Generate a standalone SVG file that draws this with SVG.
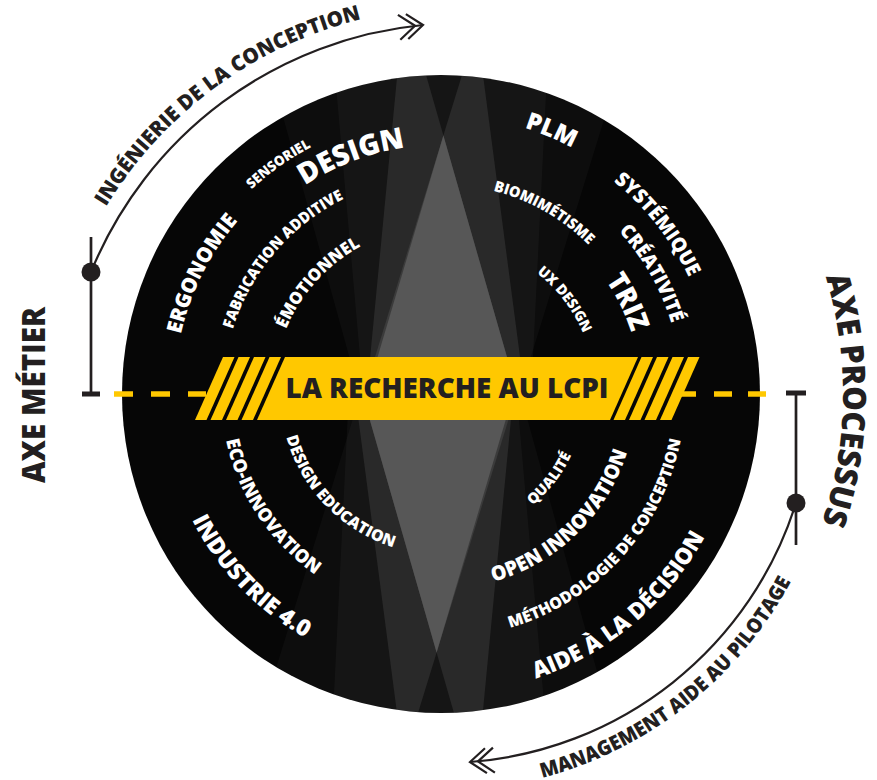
<svg xmlns="http://www.w3.org/2000/svg" width="877" height="780" viewBox="0 0 877 780">
<defs>
<style>
.w{fill:#fff;font-family:"Open Sans","Noto Sans",sans-serif;font-weight:800;}
.d{fill:#231f20;font-family:"Open Sans","Noto Sans",sans-serif;font-weight:800;}
.ln{fill:none;stroke:#231f20;stroke-width:2.2;}
.vl{stroke:#231f20;stroke-width:2.7;}
.dash{stroke:#FFC800;stroke-width:5.5;}
.y{fill:#FFC800;}
</style>
<clipPath id="cc"><circle cx="441" cy="394" r="319"/></clipPath>
<polygon id="stripe" points="0,0 11.5,0 -16.5,63 -28,63"/>
<path id="chev" d="M-16,-12.5 L0,0 L-16,12.5 M-24,-12.5 L-8,0 L-24,12.5"/>
<path id="p1" d="M195.8,499.6 A267,267 0 0 1 379.6,134.2"/>
<path id="p2" d="M163.0,370.9 A279,279 0 0 1 512.0,124.2"/>
<path id="p3" d="M206.0,311.7 A249,249 0 0 1 562.9,176.9"/>
<path id="p4" d="M226.0,430.2 A218,218 0 0 1 442.7,176.0"/>
<path id="p5" d="M274.6,417.1 A168,168 0 0 1 447.2,226.1"/>
<path id="p6" d="M313.3,146.0 A279,279 0 0 1 707.4,311.3"/>
<path id="p7" d="M450.1,120.2 A274,274 0 0 1 709.1,450.5"/>
<path id="p8" d="M483.7,156.8 A241,241 0 0 1 667.2,477.2"/>
<path id="p9" d="M488.7,199.8 A200,200 0 0 1 624.0,474.7"/>
<path id="p10" d="M367.8,197.2 A210,210 0 0 1 647.5,356.1"/>
<path id="p11" d="M448.0,239.7 A154.5,154.5 0 0 1 591.8,427.7"/>
<path id="p12" d="M229.9,332.1 A220,220 0 0 0 416.7,612.7"/>
<path id="p13" d="M281.3,377.6 A160.5,160.5 0 0 0 452.6,554.1"/>
<path id="p14" d="M163.6,364.1 A279,279 0 0 0 459.7,672.4"/>
<path id="p15" d="M446.4,537.9 A144,144 0 0 0 581.8,363.7"/>
<path id="p16" d="M421.1,588.0 A195,195 0 0 0 635.5,379.9"/>
<path id="p17" d="M431.8,637.8 A244,244 0 0 0 682.7,360.7"/>
<path id="p18" d="M388.9,689.4 A300,300 0 0 0 741,394"/>
<path id="p19" d="M46.3,396.2 A416,416 0 0 1 559.9,18.8"/>
<path id="p20" d="M360.5,782.7 A397,397 0 0 0 837.8,405.8"/>
<path id="p21" d="M704.2,90.1 A402,402 0 0 1 694.6,705.9"/>
</defs>
<rect width="877" height="780" fill="#fff"/>

<g id="disc">
<circle cx="441" cy="394" r="319" fill="#060606"/>
<g clip-path="url(#cc)">
<g id="beams-top">
<polygon points="261.8,40 628.6,40 519.5,394 359.5,394" fill="#fff" fill-opacity="0.03"/>
<polygon points="331.9,40 548.7,40 531.2,394 363.3,394" fill="#fff" fill-opacity="0.035"/>
<polygon points="400.6,40 416,40 517.6,394 366.6,394" fill="#fff" fill-opacity="0.085"/>
<polygon points="472.8,40 478.4,40 524.9,394 363.6,394" fill="#fff" fill-opacity="0.085"/>
<polygon points="443.4,135.4 517.6,394 366.6,394" fill="#575757"/>
</g>
<use href="#beams-top" transform="rotate(180 440 394)"/>
</g>
</g>

<g id="n-ergonomie"><text class="w" font-size="21" text-anchor="middle"><textPath href="#p1" startOffset="50%" textLength="128" lengthAdjust="spacingAndGlyphs">ERGONOMIE</textPath></text></g>
<g id="n-sensoriel"><text class="w" font-size="14" text-anchor="middle"><textPath href="#p2" startOffset="50%" textLength="73.5" lengthAdjust="spacingAndGlyphs">SENSORIEL</textPath></text></g>
<g id="n-design"><text class="w" font-size="29" text-anchor="middle"><textPath href="#p3" startOffset="50%" textLength="108" lengthAdjust="spacingAndGlyphs">DESIGN</textPath></text></g>
<g id="n-fabrication"><text class="w" font-size="15.5" text-anchor="middle"><textPath href="#p4" startOffset="50%" textLength="176" lengthAdjust="spacingAndGlyphs">FABRICATION ADDITIVE</textPath></text></g>
<g id="n-emotionnel"><text class="w" font-size="17" text-anchor="middle"><textPath href="#p5" startOffset="50%" textLength="114" lengthAdjust="spacingAndGlyphs">ÉMOTIONNEL</textPath></text></g>
<g id="n-plm"><text class="w" font-size="24" text-anchor="middle"><textPath href="#p6" startOffset="50%" textLength="52" lengthAdjust="spacingAndGlyphs">PLM</textPath></text></g>
<g id="n-systemique"><text class="w" font-size="20" text-anchor="middle"><textPath href="#p7" startOffset="50%" textLength="123" lengthAdjust="spacingAndGlyphs">SYSTÉMIQUE</textPath></text></g>
<g id="n-creativite"><text class="w" font-size="19.5" text-anchor="middle"><textPath href="#p8" startOffset="50%" textLength="107" lengthAdjust="spacingAndGlyphs">CRÉATIVITÉ</textPath></text></g>
<g id="n-triz"><text class="w" font-size="28" text-anchor="middle"><textPath href="#p9" startOffset="50%" textLength="58" lengthAdjust="spacingAndGlyphs">TRIZ</textPath></text></g>
<g id="n-biomimetisme"><text class="w" font-size="15" text-anchor="middle"><textPath href="#p10" startOffset="50%" textLength="111" lengthAdjust="spacingAndGlyphs">BIOMIMÉTISME</textPath></text></g>
<g id="n-uxdesign"><text class="w" font-size="14.5" text-anchor="middle"><textPath href="#p11" startOffset="50%" textLength="77" lengthAdjust="spacingAndGlyphs">UX DESIGN</textPath></text></g>
<g id="n-ecoinnovation"><text class="w" font-size="18.5" text-anchor="middle"><textPath href="#p12" startOffset="50%" textLength="165" lengthAdjust="spacingAndGlyphs">ECO-INNOVATION</textPath></text></g>
<g id="n-designeducation"><text class="w" font-size="16" text-anchor="middle"><textPath href="#p13" startOffset="50%" textLength="160" lengthAdjust="spacingAndGlyphs">DESIGN EDUCATION</textPath></text></g>
<g id="n-industrie"><text class="w" font-size="23" text-anchor="middle"><textPath href="#p14" startOffset="50%" textLength="166" lengthAdjust="spacingAndGlyphs">INDUSTRIE 4.0</textPath></text></g>
<g id="n-qualite"><text class="w" font-size="14.5" text-anchor="middle"><textPath href="#p15" startOffset="50%" textLength="64" lengthAdjust="spacingAndGlyphs">QUALITÉ</textPath></text></g>
<g id="n-openinnovation"><text class="w" font-size="20.5" text-anchor="middle"><textPath href="#p16" startOffset="50%" textLength="194" lengthAdjust="spacingAndGlyphs">OPEN INNOVATION</textPath></text></g>
<g id="n-methodologie"><text class="w" font-size="16" text-anchor="middle"><textPath href="#p17" startOffset="50%" textLength="267" lengthAdjust="spacingAndGlyphs">MÉTHODOLOGIE DE CONCEPTION</textPath></text></g>
<g id="n-aide"><text class="w" font-size="23" text-anchor="middle"><textPath href="#p18" startOffset="50%" textLength="226" lengthAdjust="spacingAndGlyphs">AIDE À LA DÉCISION</textPath></text></g>

<g id="connectors">
<path class="ln" d="M91,272 A400,400 0 0 1 423,25"/>
<use href="#chev" class="ln" transform="translate(423,25) rotate(-5.5)"/>
<path class="ln" d="M796,503 A371,371 0 0 1 470,762"/>
<use href="#chev" class="ln" transform="translate(470,762) rotate(175.5)"/>
<line class="vl" x1="91" y1="237" x2="91" y2="394"/>
<rect x="82" y="391.5" width="18" height="5" fill="#231f20"/>
<circle cx="91" cy="272" r="9.5" fill="#231f20"/>
<line class="vl" x1="796" y1="393" x2="796" y2="545"/>
<rect x="786" y="390.5" width="20" height="5" fill="#231f20"/>
<circle cx="796" cy="503" r="9.5" fill="#231f20"/>
<line class="dash" x1="114" y1="394" x2="133" y2="394"/>
<line class="dash" x1="151" y1="394" x2="170" y2="394"/>
<line class="dash" x1="188" y1="394" x2="206" y2="394"/>
<line class="dash" x1="681" y1="394" x2="696" y2="394"/>
<line class="dash" x1="714" y1="394" x2="732" y2="394"/>
<line class="dash" x1="748" y1="394" x2="766" y2="394"/>
</g>

<g id="banner">
<polygon class="y" points="285,357 638,357 610,420 257,420"/>
<use href="#stripe" class="y" transform="translate(223,357)"/>
<use href="#stripe" class="y" transform="translate(238.5,357)"/>
<use href="#stripe" class="y" transform="translate(254,357)"/>
<use href="#stripe" class="y" transform="translate(269.5,357)"/>
<use href="#stripe" class="y" transform="translate(641.5,357)"/>
<use href="#stripe" class="y" transform="translate(657,357)"/>
<use href="#stripe" class="y" transform="translate(672.5,357)"/>
<use href="#stripe" class="y" transform="translate(688,357)"/>
<text class="d" x="447" y="398" font-size="28" text-anchor="middle" textLength="323" lengthAdjust="spacingAndGlyphs">LA RECHERCHE AU LCPI</text>
</g>

<g id="n-ingenierie"><text class="d" font-size="21" text-anchor="middle"><textPath href="#p19" startOffset="50%" textLength="325" lengthAdjust="spacingAndGlyphs">INGÉNIERIE DE LA CONCEPTION</textPath></text></g>
<g id="n-management"><text class="d" font-size="20.5" text-anchor="middle"><textPath href="#p20" startOffset="50%" textLength="326" lengthAdjust="spacingAndGlyphs">MANAGEMENT AIDE AU PILOTAGE</textPath></text></g>
<g id="n-axemetier"><text class="d" font-size="32" text-anchor="middle" transform="translate(45,395) rotate(-90)" textLength="176" lengthAdjust="spacingAndGlyphs">AXE MÉTIER</text></g>
<g id="n-axeprocessus"><text class="d" font-size="32" text-anchor="middle"><textPath href="#p21" startOffset="50%" textLength="250" lengthAdjust="spacingAndGlyphs">AXE PROCESSUS</textPath></text></g>
</svg>
